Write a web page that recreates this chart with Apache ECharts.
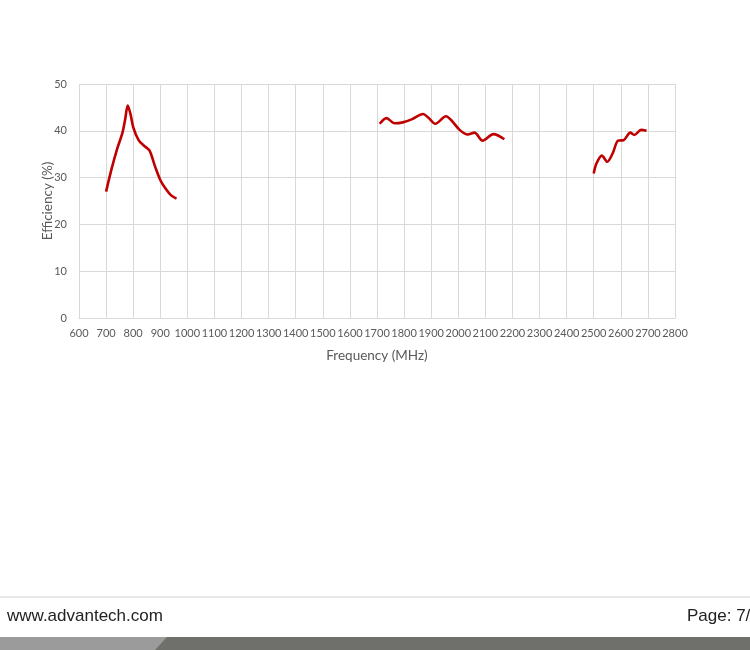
<!DOCTYPE html>
<html>
<head>
<meta charset="utf-8">
<script src="https://cdn.jsdelivr.net/npm/echarts@6/dist/echarts.min.js"></script>
<style>
html,body{margin:0;padding:0;background:#fff;}
#c{width:750px;height:650px;}
</style>
</head>
<body>
<div id="c"></div>
<script>
const band1Freq = [700,720,740,760,770,780,790,800,820,840,860,880,900,920,940,960];
const band1Eff  = [27,31.8,36,39.5,42.3,45.4,43.6,40.8,38,36.8,35.8,32.5,29.5,27.6,26.2,25.5];
const band2Freq = [1710,1735,1765,1795,1830,1870,1890,1915,1955,1975,2005,2035,2060,2090,2130,2170];
const band2Eff  = [41.5,42.7,41.6,41.8,42.5,43.6,42.8,41.5,43.1,42.2,40.2,39.2,39.6,37.9,39.3,38.2];
const band3Freq = [2500,2510,2530,2550,2570,2590,2610,2635,2650,2675,2695];
const band3Eff  = [30.9,33,34.7,33.4,35.2,37.9,38,39.6,39.1,40.2,40];
const xTitle = 'Frequency (MHz)';
const yTitle = 'Efficiency (%)';
const footerLeft = 'www.advantech.com';
const footerRight = 'Page: 7/';

function pairs(xs, ys){ return xs.map((x,i)=>[x, ys[i]]); }

const chart = echarts.init(document.getElementById('c'), null, {renderer:'canvas'});
const font = 'Lato, "Open Sans", sans-serif';
const lineStyle = {color:'#c00000', width:2.6};
function mk(xs, ys){
  return {type:'line', data:pairs(xs, ys), smooth:0.3, symbol:'none', lineStyle:lineStyle, itemStyle:{color:'#c00000'}};
}
chart.setOption({
  animation:false,
  grid:{left:79, right:75, top:84, bottom:332},
  xAxis:{
    type:'value', min:600, max:2800, interval:100,
    name:xTitle, nameLocation:'middle', nameGap:31, nameMoveOverlap:false,
    nameTextStyle:{color:'#595959', fontSize:13.5, fontFamily:font},
    axisLine:{show:true, lineStyle:{color:'#d9d9d9'}},
    axisTick:{show:false},
    axisLabel:{color:'#595959', fontSize:11, fontFamily:font, margin:10, showMaxLabel:true, showMinLabel:true, hideOverlap:false,
      formatter:function(v){return String(v);}},
    splitLine:{show:true, lineStyle:{color:'#d9d9d9', width:1}}
  },
  yAxis:{
    type:'value', min:0, max:50, interval:10,
    name:yTitle, nameLocation:'middle', nameGap:24, nameRotate:90, nameMoveOverlap:false,
    nameTextStyle:{color:'#595959', fontSize:13.5, fontFamily:font},
    axisLine:{show:false},
    axisTick:{show:false},
    axisLabel:{color:'#595959', fontSize:11, fontFamily:font, margin:12},
    splitLine:{show:true, lineStyle:{color:'#d9d9d9', width:1}}
  },
  series:[mk(band1Freq,band1Eff), mk(band2Freq,band2Eff), mk(band3Freq,band3Eff)],
  graphic:[
    {type:'rect', shape:{x:0,y:596,width:750,height:2}, style:{fill:'#e8e8e8'}, silent:true},
    {type:'text', left:7, top:608, style:{text:footerLeft, font:'17px "Liberation Sans", Arial, sans-serif', fill:'#222'}},
    {type:'text', left:687, top:608, style:{text:footerRight, font:'17px "Liberation Sans", Arial, sans-serif', fill:'#222'}},
    {type:'rect', shape:{x:0,y:637,width:750,height:13}, style:{fill:'#6f6f6b'}, silent:true},
    {type:'polygon', shape:{points:[[0,637],[167,637],[155,650],[0,650]]}, style:{fill:'#9b9b9b'}, silent:true}
  ]
});
</script>
</body>
</html>
